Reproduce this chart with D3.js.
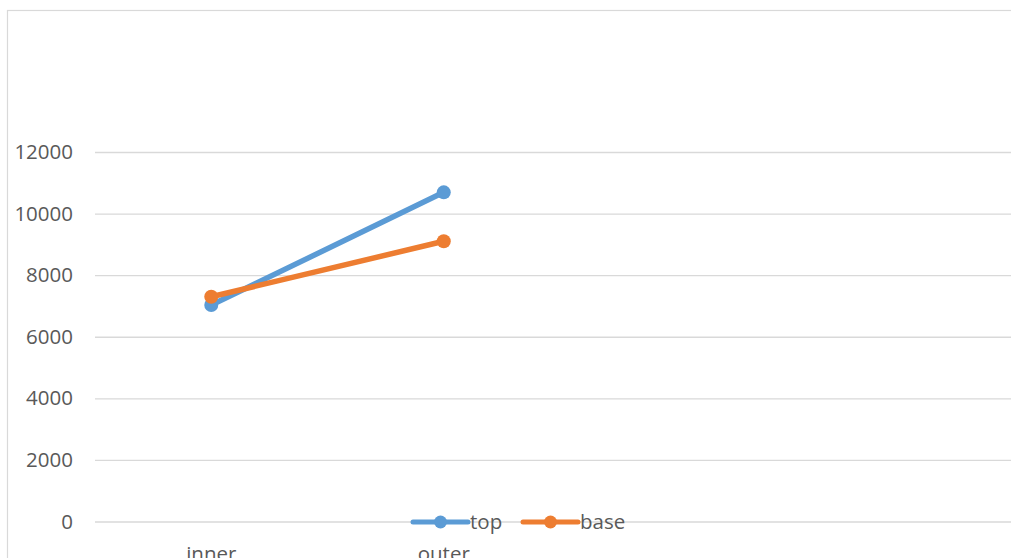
<!DOCTYPE html>
<html>
<head>
<meta charset="utf-8">
<script src="https://cdn.jsdelivr.net/npm/d3@7"></script>
<style>
  html, body { margin: 0; padding: 0; background: #fff; }
  svg { display: block; }
  text { font-family: "Open Sans", sans-serif; fill: #595959; }
</style>
</head>
<body>
<svg id="chart" width="1011" height="558"></svg>
<script>
const categories = ["inner", "outer"];
const seriesNames = ["top", "base"];
const topValues = [7030, 10690];
const baseValues = [7300, 9100];
const yTicks = [0, 2000, 4000, 6000, 8000, 10000, 12000];
const colors = ["#5B9BD5", "#ED7D31"];

const series = [
  { name: seriesNames[0], values: topValues, color: colors[0] },
  { name: seriesNames[1], values: baseValues, color: colors[1] }
];

const W = 1011, H = 558;
const FS = 20.5;
const svg = d3.select("#chart");

// chart border (cropped on right/bottom)
svg.append("rect")
  .attr("x", 7.5).attr("y", 10.5)
  .attr("width", W + 20).attr("height", H + 20)
  .attr("fill", "#fff").attr("stroke", "#d9d9d9").attr("stroke-width", 1.2);

const plotLeft = 95;
const band = 232.5;
const x = d3.scaleBand().domain(categories).range([plotLeft, plotLeft + band * categories.length]).padding(0);
const y = d3.scaleLinear().domain([0, 12000]).range([521.5, 152]);
const cx = c => x(c) + x.bandwidth() / 2;

// gridlines + y labels
const yAxis = d3.axisLeft(y).tickValues(yTicks).tickSize(-(W + 20 - plotLeft)).tickPadding(22).tickFormat(d3.format("d"));
const gy = svg.append("g").attr("transform", `translate(${plotLeft},0)`).call(yAxis);
gy.select(".domain").remove();
gy.selectAll(".tick line").attr("stroke", "#d9d9d9").attr("stroke-width", 1.3);
gy.selectAll(".tick text").attr("font-size", FS).attr("fill", "#595959")
  .attr("font-family", "Open Sans, sans-serif");

// x labels
const xAxis = d3.axisBottom(x).tickSize(0).tickPadding(0);
const gx = svg.append("g").attr("transform", `translate(0,521.5)`).call(xAxis);
gx.select(".domain").remove();
gx.selectAll(".tick text").attr("font-size", FS).attr("fill", "#595959")
  .attr("font-family", "Open Sans, sans-serif").attr("dy", null).attr("y", 39);

// lines
const line = d3.line().x((d, i) => cx(categories[i])).y(d => y(d));
series.forEach(s => {
  svg.append("path").datum(s.values)
    .attr("d", line).attr("fill", "none")
    .attr("stroke", s.color).attr("stroke-width", 5.5).attr("stroke-linecap", "round");
});
series.forEach(s => {
  svg.selectAll(null).data(s.values).enter().append("circle")
    .attr("cx", (d, i) => cx(categories[i])).attr("cy", d => y(d))
    .attr("r", 7).attr("fill", s.color);
});

// legend
const legendItems = [
  { x0: 413, name: seriesNames[0], color: colors[0] },
  { x0: 523, name: seriesNames[1], color: colors[1] }
];
const ly = 522;
legendItems.forEach((it, i) => {
  const g = svg.append("g");
  g.append("line").attr("x1", it.x0).attr("x2", it.x0 + 55).attr("y1", ly).attr("y2", ly)
    .attr("stroke", series[i].color).attr("stroke-width", 5).attr("stroke-linecap", "round");
  g.append("circle").attr("cx", it.x0 + 27.5).attr("cy", ly).attr("r", 6.5).attr("fill", series[i].color);
  g.append("text").attr("x", it.x0 + 57).attr("y", ly).attr("dy", "0.35em")
    .attr("font-size", FS).text(series[i].name);
});
</script>
</body>
</html>
